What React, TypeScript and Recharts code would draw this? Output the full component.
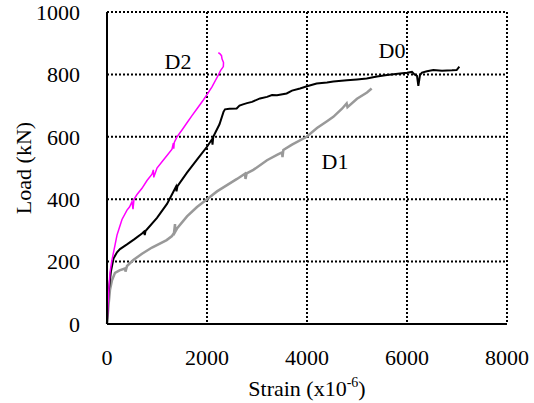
import { LineChart, Line, XAxis, YAxis, CartesianGrid, ReferenceDot } from "recharts";

const xTicks = [0, 2000, 4000, 6000, 8000];
const yTicks = [0, 200, 400, 600, 800, 1000];

// strain (x10^-6) vs load (kN)
const d0Strain = [0, 30, 80, 130, 200, 260, 400, 550, 700, 740, 755, 770, 1000, 1200, 1380, 1390, 1410, 1600, 1800, 2000, 2100, 2110, 2125, 2250, 2330, 2360, 2450, 2593, 2650, 2720, 2800, 2900, 3060, 3200, 3300, 3400, 3593, 3700, 3860, 4000, 4193, 4400, 4527, 4800, 5000, 5193, 5400, 5600, 5860, 6000, 6100, 6150, 6200, 6227, 6260, 6300, 6400, 6527, 6700, 6900, 6993, 7047];
const d0Load = [0, 100, 170, 210, 230, 240, 255, 272, 290, 296, 285, 298, 340, 385, 440, 425, 442, 485, 527, 568, 592, 575, 600, 640, 680, 688, 690, 691, 700, 704, 708, 712, 723, 728, 734, 733, 739, 748, 755, 762, 771, 774, 777, 781, 784, 787, 793, 798, 803, 805, 808, 800, 795, 763, 798, 806, 810, 814, 812, 813, 814, 825];

const d1Strain = [0, 30, 60, 100, 160, 250, 360, 370, 400, 527, 700, 900, 1193, 1300, 1340, 1360, 1365, 1400, 1600, 1800, 2000, 2200, 2400, 2600, 2760, 2770, 2793, 2927, 3200, 3400, 3500, 3510, 3527, 3700, 3993, 4200, 4400, 4527, 4700, 4793, 4810, 5000, 5200, 5293];
const d1Load = [0, 60, 110, 140, 164, 172, 178, 168, 186, 205, 225, 245, 269, 282, 292, 320, 296, 306, 345, 375, 400, 425, 445, 465, 482, 465, 483, 494, 525, 542, 550, 535, 558, 575, 600, 628, 650, 664, 690, 707, 695, 722, 742, 755];

const d2Strain = [0, 20, 40, 60, 93, 150, 200, 250, 300, 400, 450, 500, 520, 540, 600, 700, 800, 900, 927, 935, 1000, 1100, 1200, 1300, 1327, 1335, 1345, 1400, 1500, 1600, 1700, 1800, 1927, 2000, 2100, 2227, 2270, 2327, 2330, 2300, 2290, 2260, 2227];
const d2Load = [0, 60, 120, 165, 200, 245, 285, 310, 335, 365, 375, 392, 368, 400, 415, 435, 460, 480, 494, 470, 500, 520, 540, 560, 580, 562, 582, 600, 622, 645, 668, 690, 718, 735, 760, 798, 812, 825, 838, 850, 860, 866, 870];

const toRows = (xs: number[], ys: number[]) => xs.map((s, i) => ({ strain: s, load: ys[i] }));

const d0 = toRows(d0Strain, d0Load);
const d1 = toRows(d1Strain, d1Load);
const d2 = toRows(d2Strain, d2Load);

const font = "Liberation Serif";

const XTick = (props: any) => (
  <text x={props.x} y={props.y + 23} dy="0.71em" textAnchor="middle" fontFamily={font} fontSize={22} fill="#000">
    {props.payload.value}
  </text>
);

const YTick = (props: any) => (
  <text x={props.x - 25} y={props.y} dy="0.355em" textAnchor="end" fontFamily={font} fontSize={22} fill="#000">
    {props.payload.value}
  </text>
);

export default function App() {
  return (
    <div style={{ position: "absolute", left: 0, top: 0, background: "#fff", fontFamily: font }}>
      <LineChart width={534} height={403} margin={{ top: 12, right: 27, bottom: 0, left: 0 }}>
        <CartesianGrid stroke="#000" strokeWidth={2} strokeDasharray="2 2" />
        <XAxis
          type="number"
          dataKey="strain"
          domain={[0, 8000]}
          ticks={xTicks}
          height={79}
          tickSize={0}
          tickLine={false}
          axisLine={{ stroke: "#000", strokeWidth: 2 }}
          tick={XTick}
          label={{
            content: () => (
              <text x={307} y={396} textAnchor="middle" fontFamily={font} fontSize={22} fill="#000">
                Strain (x10
                <tspan fontSize={14} dy={-9}>-6</tspan>
                <tspan dy={9}>)</tspan>
              </text>
            ),
          }}
        />
        <YAxis
          type="number"
          dataKey="load"
          domain={[0, 1000]}
          ticks={yTicks}
          width={107}
          tickSize={0}
          tickLine={false}
          axisLine={{ stroke: "#000", strokeWidth: 2 }}
          tick={YTick}
          label={{
            content: () => (
              <text
                x={31}
                y={168}
                textAnchor="middle"
                fontFamily={font}
                fontSize={22}
                fill="#000"
                transform="rotate(-90 31 168)"
              >
                Load (kN)
              </text>
            ),
          }}
        />
        <Line data={d1} dataKey="load" stroke="#999999" strokeWidth={2.5} dot={false} isAnimationActive={false} />
        <Line data={d0} dataKey="load" stroke="#000000" strokeWidth={2} dot={false} isAnimationActive={false} />
        <Line data={d2} dataKey="load" stroke="#ff00ff" strokeWidth={1.5} dot={false} isAnimationActive={false} />
        <ReferenceDot x={1420} y={842} r={0} label={{ value: "D2", position: "center", fontFamily: font, fontSize: 22, fill: "#000" }} />
        <ReferenceDot x={5700} y={878} r={0} label={{ value: "D0", position: "center", fontFamily: font, fontSize: 22, fill: "#000" }} />
        <ReferenceDot x={4560} y={521} r={0} label={{ value: "D1", position: "center", fontFamily: font, fontSize: 22, fill: "#000" }} />
      </LineChart>
    </div>
  );
}
